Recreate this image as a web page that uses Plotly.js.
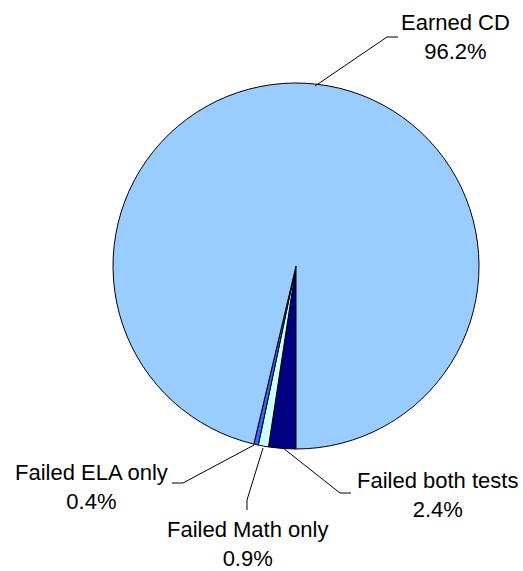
<!DOCTYPE html>
<html>
<head>
<meta charset="utf-8">
<script src="https://cdn.plot.ly/plotly-3.0.1.min.js"></script>
<style>html,body{margin:0;padding:0;background:#fff;}#chart{width:523px;height:571px;}</style>
</head>
<body>
<div id="chart"></div>
<script>
var labels = ['Failed both tests', 'Failed Math only', 'Failed ELA only', 'Earned CD'];
var values = [2.4, 0.9, 0.4, 96.2];
var colors = ['#000080', '#CCFFFF', '#3366FF', '#99CCFF'];

var W = 523, H = 571;
function px(x) { return x / W; }
function py(y) { return 1 - y / H; }

// label placement (pixels) and leader paths
var labelPos = [[437, 495], [247, 544], [91, 487], [455, 37]];
var leaders = [
  [[283, 448], [340, 493], [351, 493]],
  [[263, 448], [247, 500], [247, 510]],
  [[254, 445], [183, 483], [172, 483]],
  [[315, 86], [387, 37], [398, 37]]
];

var trace = {
  type: 'pie',
  labels: labels,
  values: values,
  sort: false,
  direction: 'clockwise',
  rotation: 180,
  textinfo: 'none',
  hoverinfo: 'label+percent',
  marker: { colors: colors, line: { color: '#000000', width: 1 } },
  domain: { x: [px(113), px(479)], y: [py(449), py(83)] },
  showlegend: false
};

var annotations = labels.map(function (l, i) {
  return {
    xref: 'paper', yref: 'paper',
    x: px(labelPos[i][0]), y: py(labelPos[i][1]),
    xanchor: 'center', yanchor: 'middle',
    text: l + '<br>' + values[i].toFixed(1) + '%',
    showarrow: false, align: 'center',
    font: { family: 'Liberation Sans, Arial, sans-serif', size: 22, color: '#000' }
  };
});

var shapes = leaders.map(function (pts) {
  var d = pts.map(function (p, j) { return (j ? 'L' : 'M') + px(p[0]) + ',' + py(p[1]); }).join(' ');
  return { type: 'path', xref: 'paper', yref: 'paper', path: d, line: { color: '#000', width: 1 } };
});

var layout = {
  width: W, height: H,
  margin: { l: 0, r: 0, t: 0, b: 0 },
  paper_bgcolor: '#fff', plot_bgcolor: '#fff',
  annotations: annotations,
  shapes: shapes,
  showlegend: false
};

Plotly.newPlot('chart', [trace], layout, { displayModeBar: false, staticPlot: true });
</script>
</body>
</html>
